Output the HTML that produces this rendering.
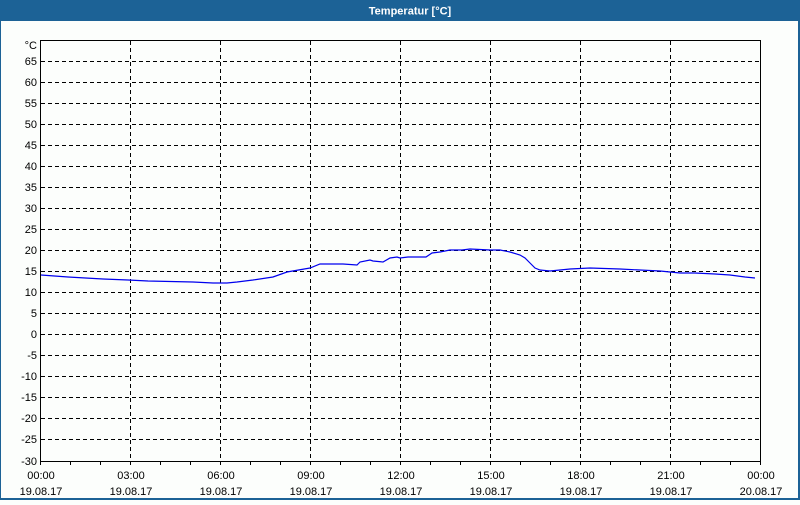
<!DOCTYPE html><html><head><style>body{margin:0;width:800px;height:500px;overflow:hidden;background:#fcfefc}</style></head><body>
<svg width="800" height="500" xmlns="http://www.w3.org/2000/svg" font-family="Liberation Sans, sans-serif" font-size="11">
<rect x="0" y="0" width="800" height="500" fill="#fcfefc"/>
<rect x="0" y="0" width="800" height="21" fill="#1c6296"/>
<text x="410" y="14.5" text-anchor="middle" fill="#fff" font-weight="bold" font-size="11">Temperatur [°C]</text>
<rect x="0" y="0" width="1" height="500" fill="#1c6296"/>
<rect x="798" y="0" width="2" height="500" fill="#1c6296"/>
<rect x="0" y="498" width="800" height="2" fill="#1c6296"/>
<g stroke="#000" stroke-width="1" stroke-dasharray="4,3">
<path d="M41 61.5H760M41 82.5H760M41 103.5H760M41 124.5H760M41 145.5H760M41 166.5H760M41 187.5H760M41 208.5H760M41 229.5H760M41 250.5H760M41 271.5H760M41 292.5H760M41 313.5H760M41 334.5H760M41 355.5H760M41 376.5H760M41 397.5H760M41 418.5H760M41 439.5H760"/>
<path d="M130.5 41V461M220.5 41V461M310.5 41V461M400.5 41V461M490.5 41V461M580.5 41V461M670.5 41V461"/>
</g>
<rect x="40.5" y="40.5" width="720" height="421" fill="none" stroke="#000"/>
<g stroke="#000"><path d="M70.5 461v4M100.5 461v4M130.5 461v4M160.5 461v4M190.5 461v4M220.5 461v4M250.5 461v4M280.5 461v4M310.5 461v4M340.5 461v4M370.5 461v4M400.5 461v4M430.5 461v4M460.5 461v4M490.5 461v4M520.5 461v4M550.5 461v4M580.5 461v4M610.5 461v4M640.5 461v4M670.5 461v4M700.5 461v4M730.5 461v4M40.5 461v4M760.5 461v4"/></g>
<polyline fill="none" stroke="#0000ee" stroke-width="1.2" points="41,275 68,277 103,279 128,280 148,281 193,282 213,283 227,283 237,282 253,280 273,277 287,272 310,268 320,264 343,264 357,265 360,262 370,260 373,261 383,262 390,258 397,257 400,258 408,257 426,257 432,253 440,252 450,250 462,250 470,249 490,250 500,250 510,252 520,255 525,258 530,263 535,268 540,270 550,271 560,270 570,269 590,268 620,269 640,270 660,271 670,272 680,273 695,273 715,274 730,275 745,277 755,278"/>
<g text-anchor="end">
<text x="37" y="49">°C</text><text x="37" y="65">65</text><text x="37" y="86">60</text><text x="37" y="107">55</text><text x="37" y="128">50</text><text x="37" y="149">45</text><text x="37" y="170">40</text><text x="37" y="191">35</text><text x="37" y="212">30</text><text x="37" y="233">25</text><text x="37" y="254">20</text><text x="37" y="275">15</text><text x="37" y="296">10</text><text x="37" y="317">5</text><text x="37" y="338">0</text><text x="37" y="359">-5</text><text x="37" y="380">-10</text><text x="37" y="401">-15</text><text x="37" y="422">-20</text><text x="37" y="443">-25</text><text x="37" y="465">-30</text>
</g>
<g text-anchor="middle">
<text x="41" y="479">00:00</text><text x="41" y="495">19.08.17</text>
<text x="131" y="479">03:00</text><text x="131" y="495">19.08.17</text>
<text x="221" y="479">06:00</text><text x="221" y="495">19.08.17</text>
<text x="311" y="479">09:00</text><text x="311" y="495">19.08.17</text>
<text x="401" y="479">12:00</text><text x="401" y="495">19.08.17</text>
<text x="491" y="479">15:00</text><text x="491" y="495">19.08.17</text>
<text x="581" y="479">18:00</text><text x="581" y="495">19.08.17</text>
<text x="671" y="479">21:00</text><text x="671" y="495">19.08.17</text>
<text x="761" y="479">00:00</text><text x="761" y="495">20.08.17</text>
</g>
</svg></body></html>
